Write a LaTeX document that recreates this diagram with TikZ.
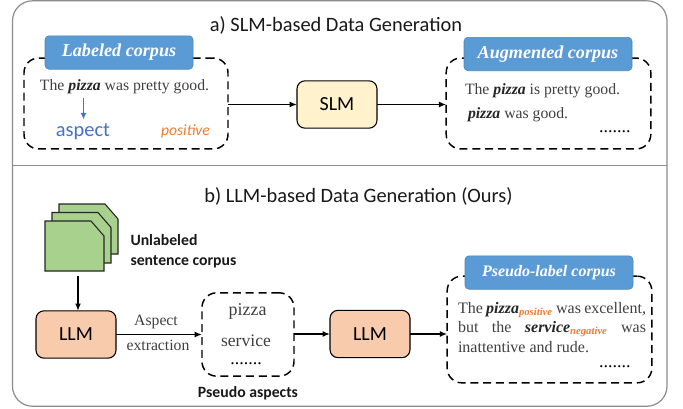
\documentclass[tikz,border=0pt]{standalone}
\usepackage{fontspec}
\setmainfont{Liberation Serif}
\newfontfamily\carl{Carlito}
\usetikzlibrary{arrows.meta}
\definecolor{bluebox}{HTML}{5B9BD5}
\definecolor{blueedge}{HTML}{4A86BC}
\definecolor{aspectblue}{HTML}{4472C4}
\definecolor{orangetxt}{HTML}{ED7D31}
\definecolor{yelfill}{HTML}{FFF2CC}
\definecolor{salmon}{HTML}{F8CBAD}
\definecolor{pagegreen}{HTML}{A9D18E}
\definecolor{greyline}{HTML}{8C8C8C}
\definecolor{txtgrey}{HTML}{404040}
\newcommand{\pz}[1]{\textcolor{black!85}{\textbf{\textit{#1}}}}
\newcommand{\sn}[1]{\textsubscript{\textcolor{orangetxt}{\textbf{\textit{#1}}}}}
\newcommand{\tsize}[2]{\fontsize{#1}{#2}\selectfont}
\tikzset{
  x=0.75pt,y=-0.75pt,
  every node/.style={inner sep=0pt,outer sep=0pt},
  conn/.style={draw=black,line width=1.1pt,-{Latex[length=5.5pt,width=4.5pt]}},
  dashbox/.style={draw=black,line width=1.1pt,dash pattern=on 6pt off 3.6pt,rounded corners=11pt,fill=none},
  headbox/.style={draw=blueedge,line width=0.5pt,fill=bluebox,rounded corners=3pt,text=white,font=\tsize{13.6}{16}\bfseries\itshape},
  modelbox/.style={draw=black,line width=0.8pt,rounded corners=6pt,font=\carl\tsize{15}{17}},
  title/.style={font=\carl\tsize{15.3}{18},text=black!90},
  serif/.style={font=\tsize{11.8}{14},text=txtgrey},
  dots/.style={font=\tsize{13.5}{14},text=black},
  boldlab/.style={font=\carl\bfseries\tsize{11.8}{15},text=black!90,align=left},
  page/.style={draw=black!85,line width=0.8pt,fill=pagegreen},
}
\begin{document}
\begin{tikzpicture}
\useasboundingbox (0,0) rectangle (683,408);
\fill[white] (0,0) rectangle (683,408);
\draw[greyline,line width=0.9pt,rounded corners=15pt] (12.5,0.8) rectangle (667,406.2);
\draw[greyline,line width=0.9pt] (12.5,165.5) -- (667,165.5);
\node[title] (ta) at (336,25) {a) SLM-based Data Generation};
\node[title] (tb) at (358.5,196) {b) LLM-based Data Generation (Ours)};

% part a
\node[dashbox,minimum width=153pt,minimum height=68.2pt] (lab) at (126,103.5) {};
\node[headbox,minimum width=111pt,minimum height=25pt] (labh) at (119,52.5) {Labeled corpus};
\node[serif,anchor=base west] (s1) at (40,90) {The \pz{pizza} was pretty good.};
\coordinate (arrs) at (83.5,98);
\node[font=\carl\tsize{15.3}{17},text=aspectblue] (asp) at (83,132) {aspect};
\node[font=\carl\itshape\tsize{11.7}{13},text=orangetxt] (pos) at (185.5,131) {positive};
\draw[aspectblue,line width=0.9pt,-{Latex[length=5pt,width=4.5pt]}] (arrs) -- (83.5,119.5);
\node[modelbox,fill=yelfill,minimum width=60pt,minimum height=35.5pt] (slm) at (337,104.5) {SLM};
\node[dashbox,minimum width=153.5pt,minimum height=68.2pt] (aug) at (548.5,103.5) {};
\node[headbox,minimum width=126pt,minimum height=25pt] (augh) at (548,54) {Augmented corpus};
\node[serif,anchor=base west] (s2) at (465,94) {The \pz{pizza} is pretty good.};
\node[serif,anchor=base west] (s3) at (468,118) {\pz{pizza} was good.};
\node[dots,anchor=base west] (d1) at (599,132) {.......};
\draw[conn] (slm.west -| lab.east) -- (slm.west);
\draw[conn] (slm.east) -- (slm.east -| aug.west);

% part b
\draw[page] (59,204) -- (105,204) -- (118,219) -- (118,254) -- (59,254) -- cycle;
\draw[page] (52,212.5) -- (98,212.5) -- (111,227.5) -- (111,263) -- (52,263) -- cycle;
\draw[page] (45,221) -- (91,221) -- (104,236) -- (104,271) -- (45,271) -- cycle;
\coordinate (stack) at (78,276);
\node[boldlab,anchor=west] (unl) at (130.5,251) {Unlabeled\\sentence corpus};
\node[modelbox,fill=salmon,minimum width=60pt,minimum height=35.5pt] (llm1) at (76,334.5) {LLM};
\node[dashbox,minimum width=69pt,minimum height=62.5pt] (psa) at (248,334.5) {};
\node[font=\tsize{11.8}{14},text=txtgrey] (a1) at (156,322) {Aspect};
\node[font=\tsize{11.8}{14},text=txtgrey] (a2) at (158,345) {extraction};
\node[font=\tsize{13.5}{15},text=txtgrey] (p1) at (247.5,311) {pizza};
\node[font=\tsize{13.2}{15},text=txtgrey] (p2) at (246,341) {service};
\node[dots,anchor=base] (d2) at (246,364) {.......};
\node[font=\carl\bfseries\tsize{11.8}{13},text=black!90] (psl) at (248,393) {Pseudo aspects};
\node[modelbox,fill=salmon,minimum width=60pt,minimum height=35.5pt] (llm2) at (370,334) {LLM};
\node[dashbox,minimum width=153.5pt,minimum height=80pt] (pl) at (549.5,329.5) {};
\node[headbox,minimum width=126pt,minimum height=25pt,font=\tsize{12}{16}\bfseries\itshape] (plh) at (549,272.5) {Pseudo-label corpus};
\node[anchor=north west,align=left,font=\tsize{12}{14.6},text=txtgrey] (body) at (458,302)
  {\makebox[141pt][s]{The \pz{pizza}\sn{positive} was excellent,}\\
   \makebox[141pt][s]{but the \pz{service}\sn{negative} was}\\
   inattentive and rude.};
\node[dots,anchor=base west] (d3) at (599,367) {.......};
\draw[conn] (stack) -- (stack |- llm1.north);
\draw[conn] (llm1.east) -- (llm1.east -| psa.west);
\draw[conn] (llm2.west -| psa.east) -- (llm2.west);
\draw[conn] (llm2.east) -- (llm2.east -| pl.west);
\end{tikzpicture}
\end{document}
